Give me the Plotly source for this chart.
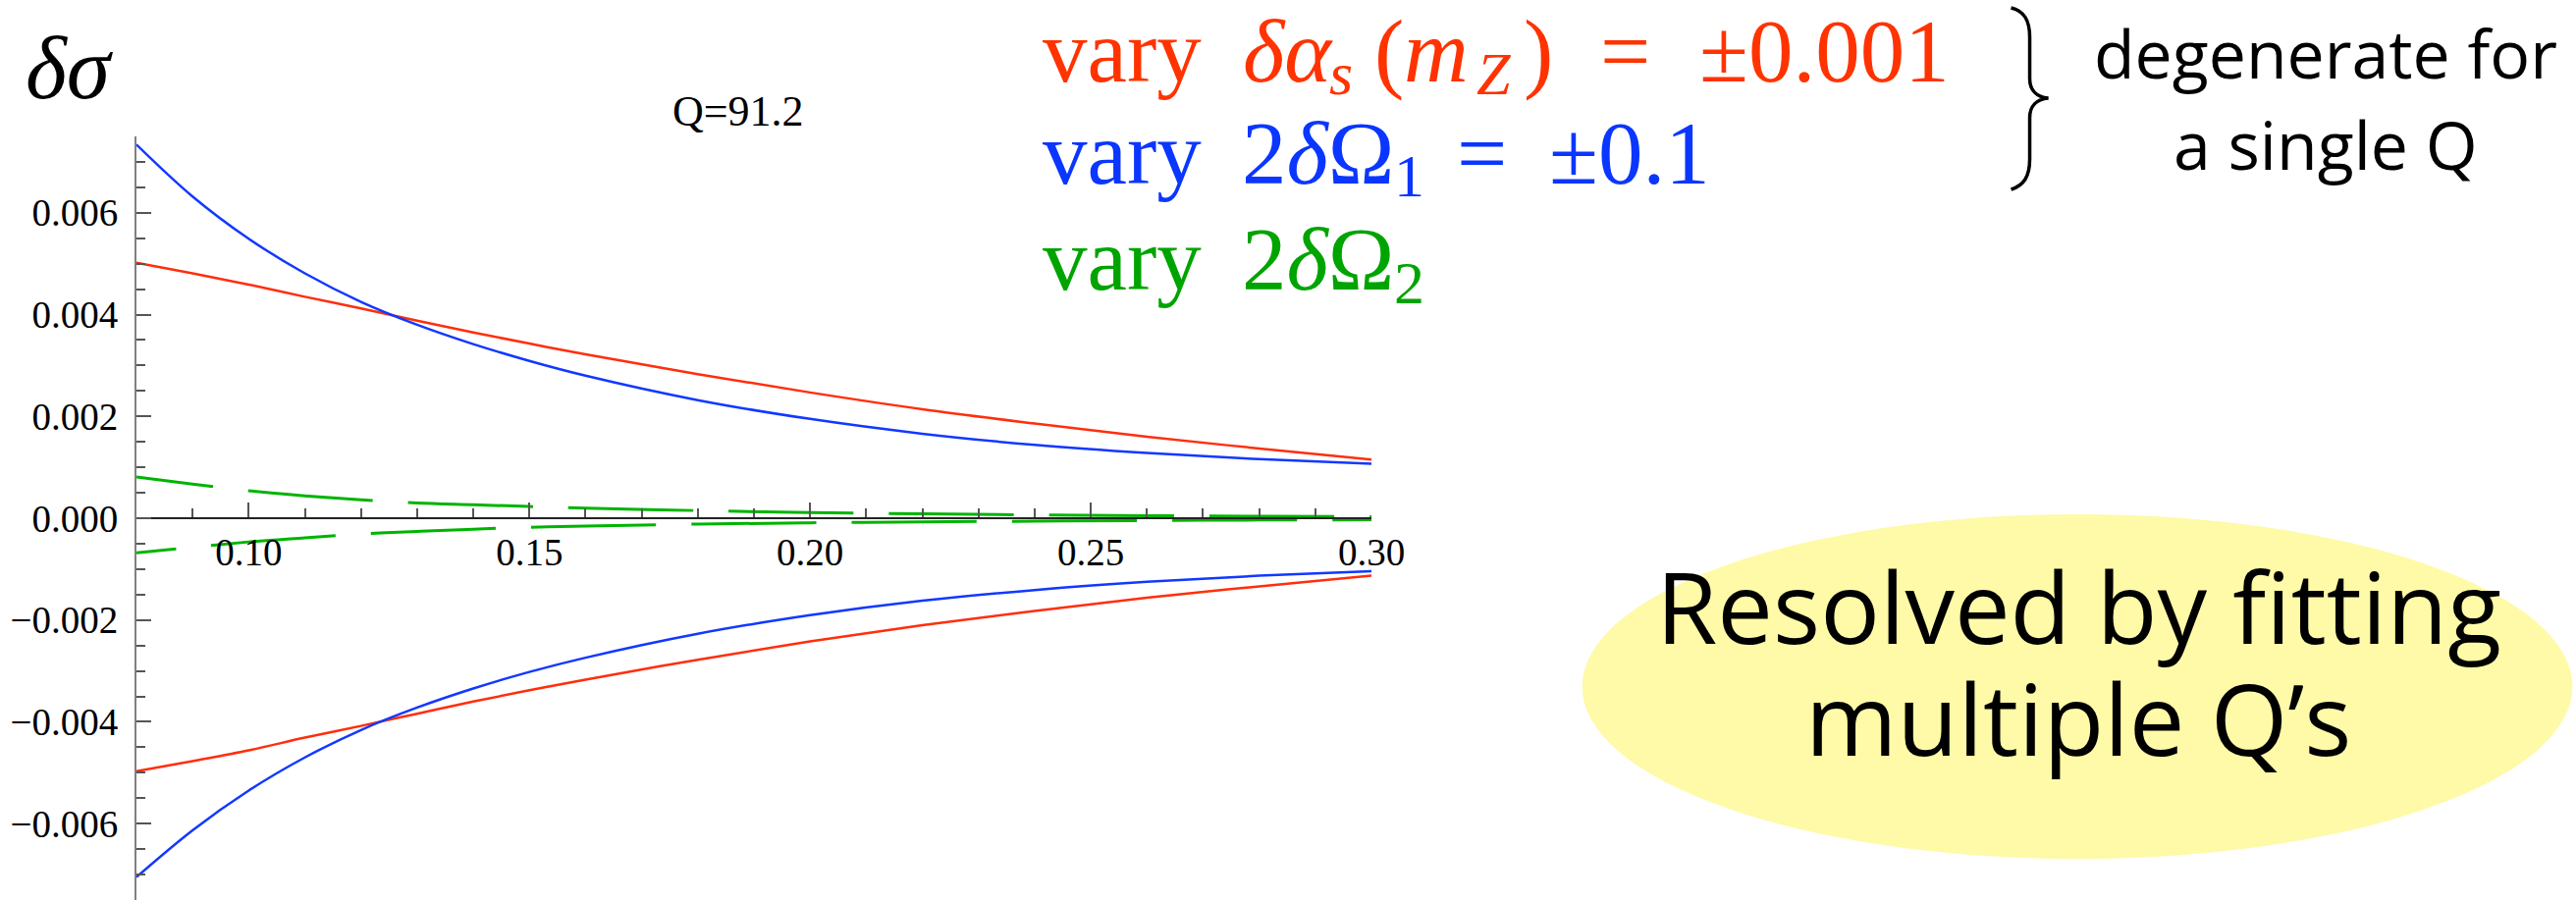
import plotly.graph_objects as go

# Canvas and plot-area geometry (pixels)
W, H = 2624, 917
ML, MR, MT, MB = 139, 1226.7, 139, 0
PW = W - ML - MR
PH = H - MT - MB

# Thrust-like variable on the horizontal axis
x_vals = [0.08, 0.09, 0.10, 0.11, 0.12, 0.13, 0.14, 0.15, 0.16,
          0.18, 0.20, 0.22, 0.24, 0.26, 0.28, 0.30]

# Shift of the cross section, delta alpha_s(mZ) = +/-0.001
alpha_up = [5.02e-3, 4.81e-3, 4.59e-3, 4.35e-3, 4.12e-3, 3.88e-3, 3.65e-3, 3.43e-3,
            3.22e-3, 2.83e-3, 2.47e-3, 2.14e-3, 1.86e-3, 1.60e-3, 1.37e-3, 1.15e-3]
alpha_dn = [-4.97e-3, -4.77e-3, -4.56e-3, -4.31e-3, -4.08e-3, -3.84e-3, -3.60e-3, -3.38e-3,
            -3.17e-3, -2.78e-3, -2.42e-3, -2.10e-3, -1.82e-3, -1.56e-3, -1.34e-3, -1.13e-3]

# Shift from 2 delta Omega_1 = +/-0.1
omega1_up = [7.34e-3, 6.32e-3, 5.49e-3, 4.81e-3, 4.25e-3, 3.80e-3, 3.42e-3, 3.09e-3,
             2.80e-3, 2.32e-3, 1.95e-3, 1.66e-3, 1.44e-3, 1.28e-3, 1.16e-3, 1.07e-3]
omega1_dn = [-7.05e-3, -6.13e-3, -5.35e-3, -4.70e-3, -4.16e-3, -3.72e-3, -3.345e-3, -3.02e-3,
             -2.74e-3, -2.27e-3, -1.905e-3, -1.62e-3, -1.41e-3, -1.25e-3, -1.13e-3, -1.04e-3]

# Shift from 2 delta Omega_2
omega2_up = [0.81e-3, 0.67e-3, 0.54e-3, 0.44e-3, 0.36e-3, 0.30e-3, 0.265e-3, 0.23e-3,
             0.20e-3, 0.15e-3, 0.11e-3, 0.085e-3, 0.066e-3, 0.05e-3, 0.04e-3, 0.03e-3]
omega2_dn = [-0.68e-3, -0.57e-3, -0.465e-3, -0.385e-3, -0.31e-3, -0.26e-3, -0.215e-3, -0.18e-3,
             -0.155e-3, -0.115e-3, -0.09e-3, -0.072e-3, -0.058e-3, -0.045e-3, -0.036e-3, -0.03e-3]

x_major = [0.10, 0.15, 0.20, 0.25, 0.30]
x_major_text = ["0.10", "0.15", "0.20", "0.25", "0.30"]
x_minor = [0.09, 0.11, 0.12, 0.13, 0.14, 0.16, 0.17, 0.18, 0.19,
           0.21, 0.22, 0.23, 0.24, 0.26, 0.27, 0.28, 0.29]
y_major = [-0.006, -0.004, -0.002, 0.0, 0.002, 0.004, 0.006]
y_major_text = ["\u22120.006", "\u22120.004", "\u22120.002", "0.000", "0.002", "0.004", "0.006"]
y_minor = [k * 0.0005 for k in range(-15, 16) if k % 4 != 0]

RED_LINE, BLUE_LINE, GREEN_LINE = "#ff2e0c", "#1238ff", "#00b400"
RED_TXT, BLUE_TXT, GREEN_TXT = "#ff3300", "#0a36ff", "#00a400"
SERIF = "Liberation Serif"
SANS = "Open Sans"


def dash_pattern(first, gap, dash, repeats):
    parts = [f"{first}px", f"{gap}px"] + [f"{dash}px,{gap}px"] * repeats
    return ",".join(parts)


fig = go.Figure()
for ys, col in [(alpha_up, RED_LINE), (alpha_dn, RED_LINE),
                (omega1_up, BLUE_LINE), (omega1_dn, BLUE_LINE)]:
    fig.add_trace(go.Scatter(x=x_vals, y=ys, mode="lines",
                             line=dict(color=col, width=2.5, shape="spline"),
                             hoverinfo="skip"))
fig.add_trace(go.Scatter(x=x_vals, y=omega2_up, mode="lines",
                         line=dict(color=GREEN_LINE, width=3, shape="spline",
                                   dash=dash_pattern(78.6, 36, 127.3, 9)),
                         hoverinfo="skip"))
fig.add_trace(go.Scatter(x=x_vals, y=omega2_dn, mode="lines",
                         line=dict(color=GREEN_LINE, width=3, shape="spline",
                                   dash=dash_pattern(40.3, 36, 127.3, 9)),
                         hoverinfo="skip"))


def px_x(px):
    return (px - ML) / PW


def px_y(py):
    return (H - MB - py) / PH


def label(text, px, py, size, color, family, xanchor="left", yanchor="top"):
    return dict(text=text, x=px_x(px), y=px_y(py), xref="paper", yref="paper",
                xanchor=xanchor, yanchor=yanchor, showarrow=False,
                borderpad=0, borderwidth=0,
                font=dict(family=family, size=size, color=color))


F, FS = 91, 62          # main and subscript sizes of the legend formulas


def on_base(text, px, baseline, size, color):
    # place serif text so that its baseline sits at the given pixel row
    return label(text, px, baseline - 0.9 * size - 1.5, size, color, SERIF)


annotations = [
    label("<i>δσ</i>", 26, 20, 90, "black", SERIF),
    label("Q=91.2", 752, 113, 44, "black", SERIF, xanchor="center", yanchor="middle"),
    # first legend row
    on_base("vary", 1062, 85, F, RED_TXT),
    on_base("<i>δα</i>", 1266, 85, F, RED_TXT),
    on_base("<i>s</i>", 1354, 98, FS, RED_TXT),
    on_base("(", 1400, 85, F, RED_TXT),
    on_base("<i>m</i>", 1430, 85, F, RED_TXT),
    on_base("<i>Z</i>", 1504, 98, FS, RED_TXT),
    on_base(")", 1552, 85, F, RED_TXT),
    on_base("=", 1630, 85, F, RED_TXT),
    on_base("±0.001", 1731, 85, F, RED_TXT),
    # second legend row
    on_base("vary", 1062, 189, F, BLUE_TXT),
    on_base("2<i>δ</i>Ω", 1265, 189, F, BLUE_TXT),
    on_base("1", 1420, 202, FS, BLUE_TXT),
    on_base("=", 1484, 189, F, BLUE_TXT),
    on_base("±0.1", 1578, 189, F, BLUE_TXT),
    # third legend row
    on_base("vary", 1062, 297, F, GREEN_TXT),
    on_base("2<i>δ</i>Ω", 1265, 297, F, GREEN_TXT),
    on_base("2", 1420, 311, FS, GREEN_TXT),
    # remark next to the brace
    label("degenerate for", 2370, 53.6, 68, "black", SANS, xanchor="center", yanchor="middle"),
    label("a single Q", 2370, 146.6, 68, "black", SANS, xanchor="center", yanchor="middle"),
    # callout inside the ellipse
    label("Resolved by fitting", 2118, 617, 101, "black", SANS, xanchor="center", yanchor="middle"),
    label("multiple Q\u2019s", 2118, 731, 101, "black", SANS, xanchor="center", yanchor="middle"),
]


def pt(px, py):
    return f"{px_x(px):.6f},{px_y(py):.6f}"


brace = (f"M {pt(2049, 8)} C {pt(2062, 11)} {pt(2068, 20)} {pt(2068, 38)} "
         f"L {pt(2068, 80)} C {pt(2068, 92)} {pt(2075, 99)} {pt(2087, 100)} "
         f"C {pt(2075, 101)} {pt(2068, 108)} {pt(2068, 120)} "
         f"L {pt(2068, 162)} C {pt(2068, 180)} {pt(2062, 189)} {pt(2049, 193)}")

shapes = [
    dict(type="circle", xref="paper", yref="paper",
         x0=px_x(1612), x1=px_x(2621), y0=px_y(875), y1=px_y(524),
         fillcolor="#fefaa8", line=dict(width=0), layer="below"),
    dict(type="path", xref="paper", yref="paper", path=brace,
         line=dict(color="black", width=3.5)),
]

fig.update_layout(
    width=W, height=H, autosize=False,
    margin=dict(l=ML, r=MR, t=MT, b=MB, pad=0),
    paper_bgcolor="white", plot_bgcolor="white",
    showlegend=False,
    annotations=annotations,
    shapes=shapes,
    xaxis=dict(range=[0.08, 0.30], anchor="free", position=0.5,
               showline=True, linecolor="#222222", linewidth=2,
               ticks="inside", ticklen=15, tickwidth=1.5, tickcolor="#555555",
               tickmode="array", tickvals=x_major, ticktext=x_major_text,
               tickfont=dict(family=SERIF, size=39, color="black"),
               ticklabelstandoff=0,
               minor=dict(tickmode="array", tickvals=x_minor, ticks="inside",
                          ticklen=9, tickwidth=1.5, tickcolor="#555555"),
               showgrid=False, zeroline=False),
    yaxis=dict(range=[-0.0075, 0.0075],
               showline=True, linecolor="#808080", linewidth=2,
               ticks="inside", ticklen=15, tickwidth=1.5, tickcolor="#555555",
               tickmode="array", tickvals=y_major, ticktext=y_major_text,
               tickfont=dict(family=SERIF, size=39, color="black"),
               ticklabelstandoff=9,
               minor=dict(tickmode="array", tickvals=y_minor, ticks="inside",
                          ticklen=9, tickwidth=1.5, tickcolor="#555555"),
               showgrid=False, zeroline=False),
)

fig.write_html("out.html", post_script="document.body.style.margin='0';")
